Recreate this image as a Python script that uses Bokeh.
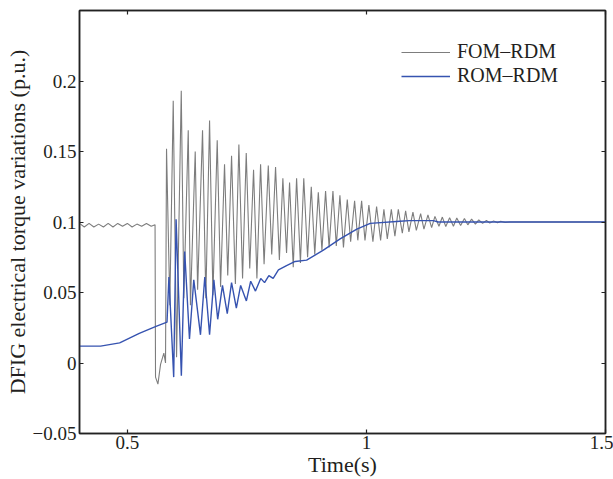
from bokeh.plotting import figure
from bokeh.models import LinearAxis, FixedTicker, Range1d, Legend, LegendItem, CustomJSTickFormatter
from bokeh.embed import file_html
from bokeh.resources import INLINE

# ---- data ----
fom_t = [0.400, 0.410, 0.420, 0.430, 0.440, 0.450, 0.460, 0.470, 0.480, 0.490,
         0.500, 0.510, 0.520, 0.530, 0.540, 0.550, 0.558, 0.559, 0.564, 0.5695,
         0.5764, 0.5799, 0.582, 0.5889, 0.596, 0.603, 0.6128, 0.6182, 0.6274, 0.632,
         0.642, 0.647, 0.6573, 0.6642, 0.672, 0.679, 0.688, 0.695, 0.7033, 0.710,
         0.718, 0.726, 0.7333, 0.741, 0.7487, 0.756, 0.764, 0.771, 0.7787, 0.786,
         0.7948, 0.802, 0.810, 0.818, 0.8253, 0.833, 0.8393, 0.847, 0.854, 0.862,
         0.869, 0.877, 0.8847, 0.892, 0.8994, 0.907, 0.9146, 0.922, 0.930, 0.937,
         0.9446, 0.952, 0.960, 0.967, 0.9753, 0.982, 0.990, 0.997, 1.0052, 1.0136,
         1.0213, 1.0297, 1.0366, 1.0437, 1.0521, 1.0596, 1.0667, 1.0751, 1.082, 1.0889,
         1.0973, 1.1044, 1.1134, 1.1203, 1.1287, 1.1364, 1.1433, 1.1517, 1.1588, 1.166,
         1.174, 1.182, 1.189, 1.197, 1.205, 1.212, 1.220, 1.228, 1.235, 1.243,
         1.251, 1.258, 1.266, 1.274, 1.281, 1.290, 1.300, 1.500]
fom_v = [0.099, 0.0965, 0.099, 0.0965, 0.0985, 0.0965, 0.099, 0.0965, 0.099, 0.097,
         0.099, 0.0965, 0.0985, 0.097, 0.099, 0.097, 0.098, -0.010, -0.015, -0.001,
         0.007, 0.000, 0.152, 0.041, 0.186, 0.004, 0.193, 0.046, 0.165, 0.041,
         0.150, 0.052, 0.165, 0.046, 0.172, 0.048, 0.158, 0.054, 0.141, 0.062,
         0.147, 0.056, 0.155, 0.060, 0.149, 0.067, 0.137, 0.060, 0.141, 0.070,
         0.140, 0.077, 0.139, 0.073, 0.131, 0.078, 0.128, 0.068, 0.131, 0.071,
         0.131, 0.075, 0.125, 0.077, 0.121, 0.080, 0.122, 0.082, 0.122, 0.083,
         0.119, 0.082, 0.116, 0.086, 0.115, 0.087, 0.115, 0.087, 0.112, 0.086,
         0.111, 0.087, 0.109, 0.088, 0.109, 0.090, 0.109, 0.092, 0.108, 0.093,
         0.107, 0.094, 0.106, 0.095, 0.105, 0.096, 0.104, 0.097, 0.1035, 0.0968,
         0.103, 0.097, 0.1028, 0.0975, 0.1025, 0.098, 0.102, 0.0985, 0.1015, 0.099,
         0.1012, 0.0992, 0.1008, 0.0995, 0.1005, 0.0997, 0.100, 0.100]

rom_t = [0.400, 0.444, 0.484, 0.525, 0.560, 0.583, 0.587, 0.597, 0.602, 0.613,
         0.620, 0.630, 0.639, 0.653, 0.662, 0.672, 0.681, 0.689, 0.699, 0.709,
         0.718, 0.728, 0.737, 0.749, 0.758, 0.768, 0.779, 0.787, 0.796, 0.805,
         0.816, 0.833, 0.851, 0.875, 0.910, 0.945, 0.980, 1.008, 1.070, 1.090,
         1.140, 1.150, 1.500]
rom_v = [0.012, 0.012, 0.0143, 0.021, 0.026, 0.029, 0.061, -0.010, 0.102, -0.009,
         0.079, 0.017, 0.059, 0.020, 0.061, 0.020, 0.059, 0.031, 0.055, 0.035,
         0.057, 0.039, 0.055, 0.044, 0.058, 0.051, 0.060, 0.057, 0.062, 0.060,
         0.066, 0.069, 0.072, 0.073, 0.080, 0.088, 0.095, 0.099, 0.1005, 0.101,
         0.101, 0.100, 0.100]

x_ticks = [0.5, 1.0, 1.5]
x_labels = ["0.5", "1", "1.5"]
y_ticks = [-0.05, 0.0, 0.05, 0.1, 0.15, 0.2]
y_labels = ["\u22120.05", "0", "0.05", "0.1", "0.15", "0.2"]

FONT = "Liberation Serif"
TICK_FONT = "'Liberation Serif'"
TXT = "#231f20"

FMT_CODE = """
let best = 0, bd = 1e9;
for (let i = 0; i < tvals.length; i++) {
  const d = Math.abs(tvals[i] - tick);
  if (d < bd) { bd = d; best = i; }
}
return show ? tlabels[best] : "";
"""

p = figure(frame_width=526, frame_height=423, output_backend="svg", toolbar_location=None,
           x_range=Range1d(0.4, 1.5), y_range=Range1d(-0.05, 0.25),
           min_border_left=79, min_border_right=8, min_border_top=10, min_border_bottom=46,
           x_axis_label="Time(s)", y_axis_label="DFIG electrical torque variations (p.u.)")
p.grid.visible = False
p.outline_line_color = "#222222"
p.outline_line_width = 1.5
p.background_fill_color = "white"
p.border_fill_color = "white"

def style(ax, ticks, labels, show_labels=True):
    ax.ticker = FixedTicker(ticks=ticks)
    ax.formatter = CustomJSTickFormatter(args=dict(tvals=ticks, tlabels=labels, show=show_labels),
                                         code=FMT_CODE)
    ax.major_tick_in = 4
    ax.major_tick_out = 0
    ax.minor_tick_line_color = None
    ax.axis_line_color = "#222222"
    ax.axis_line_width = 1.5
    ax.major_tick_line_color = "#222222"
    ax.major_tick_line_width = 1.2
    ax.major_label_text_font = TICK_FONT
    ax.major_label_text_font_size = "19px"
    ax.major_label_text_color = TXT
    ax.axis_label_text_font = FONT
    ax.axis_label_text_font_size = "22px"
    ax.axis_label_text_font_style = "normal"
    ax.axis_label_text_color = TXT

style(p.xaxis[0], x_ticks, x_labels)
style(p.yaxis[0], y_ticks, y_labels)
p.xaxis[0].major_label_standoff = 2
p.xaxis[0].axis_label_standoff = 0
p.yaxis[0].major_label_standoff = 3
p.yaxis[0].axis_label_standoff = 0

top = LinearAxis()
style(top, x_ticks, x_labels, show_labels=False)
top.major_label_text_font_size = "0px"
top.major_label_standoff = 0
p.add_layout(top, "above")
right = LinearAxis()
style(right, y_ticks, y_labels, show_labels=False)
right.major_label_text_font_size = "0px"
right.major_label_standoff = 0
p.add_layout(right, "right")

r1 = p.line(fom_t, fom_v, line_color="#7d7d7d", line_width=1.1)
r2 = p.line(rom_t, rom_v, line_color="#3653b0", line_width=1.4)

leg = Legend(items=[LegendItem(label="FOM\u2013RDM", renderers=[r1]),
                    LegendItem(label="ROM\u2013RDM", renderers=[r2])],
             location=(322, 346), padding=0, margin=0, spacing=1,
             glyph_width=49, glyph_height=22, label_height=22, label_standoff=7,
             label_text_font=FONT, label_text_font_size="20px", label_text_color=TXT,
             border_line_color=None, background_fill_alpha=0)
p.add_layout(leg)

open("out.html", "w").write(file_html(p, INLINE))
